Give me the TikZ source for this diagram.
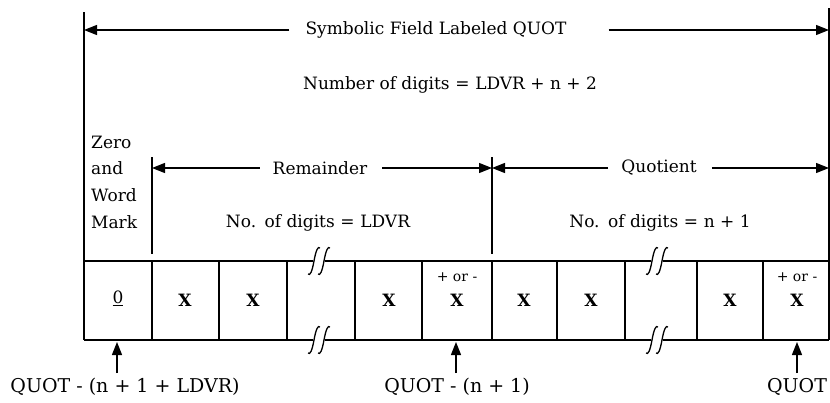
\documentclass[tikz,border=0pt]{standalone}
\usepackage{fontspec}
\setmainfont{DejaVu Serif}
\usetikzlibrary{arrows.meta}
\tikzset{
  ln/.style={line width=1.3pt},
  arr/.style={line width=1.3pt,-{Triangle[length=13pt,width=10pt]}},
  lbl/.style={inner sep=0pt,font=\fontsize{17}{20}\selectfont},
  blbl/.style={inner sep=0pt,font=\fontsize{19}{22}\selectfont},
  cellx/.style={inner sep=0pt,font=\bfseries\fontsize{17}{18}\selectfont},
  zerofont/.style={inner sep=0pt,font=\fontsize{17}{18}\selectfont},
  pm/.style={inner sep=0pt,font=\fontsize{14}{15}\selectfont},
  brk/.pic={
    \draw[ln] (-11,13) .. controls (-9,15) and (-7,11) .. (-5,0) .. controls (-3,-11) and (-1,-15) .. (1,-13);
    \draw[ln] (-1,13) .. controls (1,15) and (3,11) .. (5,0) .. controls (7,-11) and (9,-15) .. (11,-13);
  }
}
\begin{document}
\begin{tikzpicture}[x=1pt,y=-1pt]
\useasboundingbox (0,0) rectangle (830,402);
% outer verticals
\coordinate (L0) at (84,12);
\coordinate (L1) at (84,262);
\coordinate (R0) at (829,8);
\coordinate (R1) at (829,262);
\draw[ln] (L0) -- (L1);
\draw[ln] (R0) -- (R1);
% top label
\node[lbl] (sym) at (436,30) {Symbolic Field Labeled QUOT};
\coordinate (symL) at (84,30);
\coordinate (symR) at (829,30);
\draw[arr] ([xshift=-16pt]sym.west) -- (symL);
\draw[arr] ([xshift=42pt]sym.east) -- (symR);
\node[lbl] (num) at (450,85) {Number of digits\,\,=\,\,LDVR + n + 2};
% Zero and Word Mark
\node[lbl,anchor=west] (zero) at (91,142) {Zero};
\node[lbl,anchor=west] (and) at (91,168) {and};
\node[lbl,anchor=west] (word) at (91,195) {Word};
\node[lbl,anchor=west] (mark) at (91,222) {Mark};
% inner verticals
\coordinate (A0) at (152,157);
\coordinate (A1) at (152,254);
\coordinate (B0) at (492,157);
\coordinate (B1) at (492,254);
\draw[ln] (A0) -- (A1);
\draw[ln] (B0) -- (B1);
\node[lbl] (rem) at (320,168) {Remainder};
\node[lbl] (quo) at (659,168) {Quotient};
\coordinate (remL) at (152,168);
\coordinate (remR) at (492,168);
\coordinate (quoL) at (492,168);
\coordinate (quoR) at (829,168);
\draw[arr] ([xshift=-13pt]rem.west) -- (remL);
\draw[arr] ([xshift=15pt]rem.east) -- (remR);
\draw[arr] ([xshift=-13pt]quo.west) -- (quoL);
\draw[arr] ([xshift=15pt]quo.east) -- (quoR);
\node[lbl] (nd1) at (318,223) {No.\enspace of digits\,\,=\,\,LDVR};
\node[lbl] (nd2) at (660,223) {No.\enspace of digits\,\,=\,\,n + 1};
% box lines
\draw[ln] (84,261) -- (313,261);
\draw[ln] (325,261) -- (651,261);
\draw[ln] (663,261) -- (829,261);
\draw[ln] (84,340) -- (313,340);
\draw[ln] (325,340) -- (651,340);
\draw[ln] (663,340) -- (829,340);
\foreach \xx in {84,152,219,287,355,422,492,557,625,697,763,829}
  \draw[ln] (\xx,261) -- (\xx,340);
\pic at (319,261) {brk};
\pic at (319,340) {brk};
\pic at (657,261) {brk};
\pic at (657,340) {brk};
% cell contents
\node[zerofont] (c0) at (118,298) {\underline{0}};
\node[cellx] (c1) at (185,300) {X};
\node[cellx] (c2) at (253,300) {X};
\node[cellx] (c3) at (389,300) {X};
\node[pm] (p1) at (457,277) {+ or -};
\node[cellx] (c4) at (457,300) {X};
\node[cellx] (c5) at (524,300) {X};
\node[cellx] (c6) at (591,300) {X};
\node[cellx] (c7) at (730,300) {X};
\node[pm] (p2) at (797,277) {+ or -};
\node[cellx] (c8) at (797,300) {X};
% bottom pointers
\node[blbl] (q1) at (125,387) {QUOT - (n + 1 + LDVR)};
\node[blbl] (q2) at (457,387) {QUOT - (n + 1)};
\node[blbl] (q3) at (797,387) {QUOT};
\coordinate (t1) at (117,342);
\coordinate (t2) at (456,342);
\coordinate (t3) at (797,342);
\draw[arr] (117,373) -- (t1);
\draw[arr] (456,373) -- (t2);
\draw[arr] (797,373) -- (t3);
\end{tikzpicture}
\end{document}
